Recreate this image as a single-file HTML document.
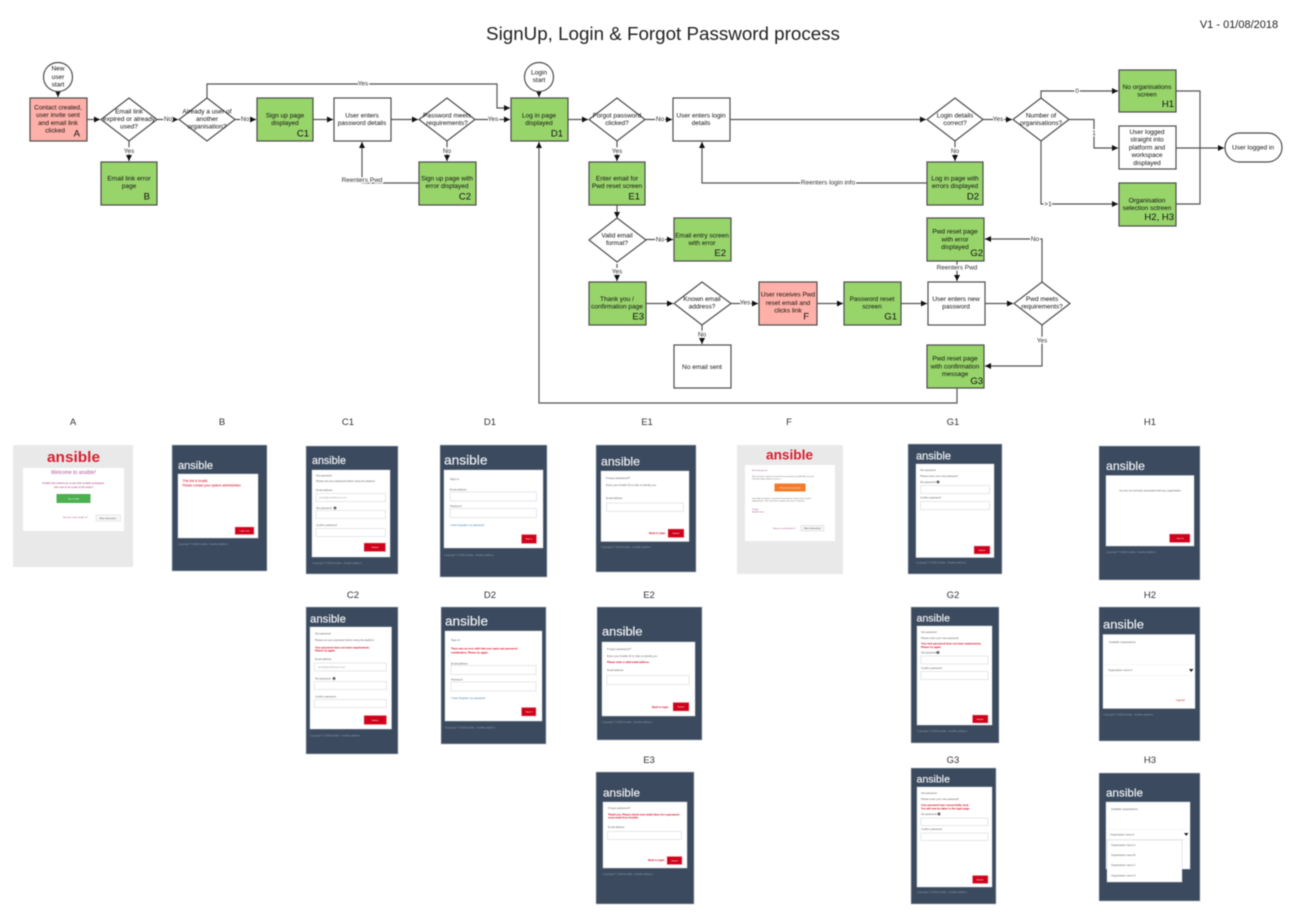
<!DOCTYPE html>
<html><head><meta charset="utf-8"><title>SignUp, Login &amp; Forgot Password process</title>
<style>
html,body{margin:0;padding:0;background:#fff;width:1310px;height:918px;overflow:hidden}
svg{display:block;filter:blur(.4px);font-family:"Liberation Sans",Arial,sans-serif}
.b{stroke:#4d4d4d;stroke-width:1.2}
.g{fill:#97d46a}.p{fill:#ffb0a8}.w{fill:#fff}
.ln{fill:none;stroke:#555;stroke-width:1.2}
.a{marker-end:url(#ah)}
.t{font-size:6.5px;text-anchor:middle;fill:#111}
.m{font-size:6.5px;text-anchor:middle;fill:#333;paint-order:stroke;stroke:#fff;stroke-width:2.5px}
.L{font-size:9.5px;text-anchor:end;fill:#111}
.H{font-size:9.5px;text-anchor:middle;fill:#333}
.s{fill:#3b4a5e;stroke:#b8c0cb;stroke-width:.6}
.e{fill:#e9e9e9}
.c{fill:#fff;stroke:#d4d8de;stroke-width:.5}
.i{fill:#fff;stroke:#d5d8dc;stroke-width:.6}
.B{fill:#d0021b;stroke:#f0a0a8;stroke-width:.4}
.lg{fill:#eef0f3;stroke:#eef0f3;stroke-width:.2}
.lr{font-weight:bold;fill:#dc1c2e}
.x{font-size:2.6px;fill:#666}
.r{font-size:2.6px;fill:#d0021b;font-weight:bold}
.f{font-size:2.6px;fill:#8c98a8}
.bt{font-size:2.2px;fill:#fff;text-anchor:middle}
.pu{font-size:2.6px;fill:#a0377f}
.u{font-size:2.6px;fill:#3a7fb5}
</style></head><body>
<svg width="1310" height="918" viewBox="0 0 1310 918" xmlns="http://www.w3.org/2000/svg">
<defs><marker id="ah" markerUnits="userSpaceOnUse" markerWidth="6" markerHeight="6" refX="6" refY="3" orient="auto"><path d="M0 0L6 3L0 6z" fill="#111"/></marker></defs>
<rect width="1310" height="918" fill="#fff"/>
<text x="663" y="40" font-size="18.8" text-anchor="middle" fill="#222">SignUp, Login &amp; Forgot Password process</text>
<text x="1239" y="28" font-size="11" text-anchor="middle" fill="#222">V1 - 01/08/2018</text>

<!-- connectors -->
<g class="ln">
<path class="a" d="M58 92V97"/>
<path class="a" d="M87 119.5H100"/>
<path class="a" d="M157 119.5H178"/>
<path class="a" d="M235 119.5H256"/>
<path class="a" d="M313 119.5H333"/>
<path class="a" d="M391 119.5H418"/>
<path class="a" d="M475 119.5H510"/>
<path class="a" d="M207 98V84H497V108H510"/>
<path class="a" d="M129 141V161"/>
<path class="a" d="M447 141V161"/>
<path class="a" d="M419 183H362V142"/>
<path class="a" d="M539 92V97"/>
<path class="a" d="M568 119.5H588"/>
<path class="a" d="M645 119.5H672"/>
<path class="a" d="M730 119.5H926"/>
<path class="a" d="M983 119.5H1012"/>
<path class="a" d="M617 141V161"/>
<path class="a" d="M955 141V161"/>
<path class="a" d="M927 183H702V142"/>
<path class="a" d="M1041 98V91H1118"/>
<path class="a" d="M1069 119.5H1094V148H1118"/>
<path class="a" d="M1041 141V204H1118"/>
<path d="M1176 91H1200V204H1176"/>
<path class="a" d="M1176 148H1224"/>
<path class="a" d="M617 205V218"/>
<path class="a" d="M646 239.5H673"/>
<path class="a" d="M617 264V281"/>
<path class="a" d="M646 303.5H673"/>
<path class="a" d="M731 303.5H758"/>
<path class="a" d="M817 303.5H843"/>
<path class="a" d="M901 303.5H927"/>
<path class="a" d="M985 303.5H1013"/>
<path class="a" d="M702 325V344"/>
<path class="a" d="M957 261V281"/>
<path class="a" d="M1042 282V239H985"/>
<path class="a" d="M1042 325V366H985"/>
<path class="a" d="M957 388V403H539V142"/>
</g>
<!-- connector labels -->
<text class="m" x="363" y="85.5">Yes</text>
<text class="m" x="168" y="121">No</text>
<text class="m" x="245" y="121">No</text>
<text class="m" x="493" y="121">Yes</text>
<text class="m" x="129" y="153">Yes</text>
<text class="m" x="447" y="153">No</text>
<text class="m" x="362" y="182">Reenters Pwd</text>
<text class="m" x="660" y="121">No</text>
<text class="m" x="617" y="153">Yes</text>
<text class="m" x="955" y="153">No</text>
<text class="m" x="828" y="184.5">Reenters login info</text>
<text class="m" x="998" y="121">Yes</text>
<text class="m" x="1077" y="93">0</text>
<text class="m" x="1094" y="135">1</text>
<text class="m" x="1048" y="206">&gt;1</text>
<text class="m" x="660" y="241.5">No</text>
<text class="m" x="617" y="273.5">Yes</text>
<text class="m" x="745" y="304.5">Yes</text>
<text class="m" x="702" y="336.5">No</text>
<text class="m" x="957" y="269.5">Reenters Pwd</text>
<text class="m" x="1035" y="241">No</text>
<text class="m" x="1042" y="342.5">Yes</text>

<!-- shapes -->
<g class="b">
<circle class="w" cx="58" cy="77" r="14.5"/>
<circle class="w" cx="539" cy="77" r="14.5"/>
<rect class="p" x="30" y="98" width="57" height="43"/>
<rect class="g" x="257" y="98" width="56" height="43"/>
<rect class="w" x="334" y="98" width="57" height="43"/>
<rect class="g" x="511" y="98" width="57" height="43"/>
<rect class="w" x="673" y="98" width="57" height="43"/>
<rect class="g" x="101" y="162" width="56" height="43"/>
<rect class="g" x="419" y="162" width="57" height="43"/>
<rect class="g" x="589" y="162" width="56" height="43"/>
<rect class="g" x="927" y="162" width="56" height="43"/>
<rect class="g" x="1119" y="70" width="57" height="42"/>
<rect class="w" x="1119" y="126" width="57" height="43"/>
<rect class="g" x="1119" y="183" width="57" height="43"/>
<rect class="w" x="1225" y="133" width="57" height="29" rx="14.5"/>
<rect class="g" x="674" y="218" width="57" height="43"/>
<rect class="g" x="927" y="218" width="57" height="43"/>
<rect class="g" x="589" y="282" width="57" height="43"/>
<rect class="p" x="759" y="282" width="58" height="43"/>
<rect class="g" x="844" y="282" width="57" height="43"/>
<rect class="w" x="928" y="282" width="57" height="43"/>
<rect class="w" x="674" y="345" width="57" height="43"/>
<rect class="g" x="927" y="345" width="57" height="43"/>
<path class="w" d="M129 98L157 119.5L129 141L101 119.5z"/>
<path class="w" d="M207 98L235 119.5L207 141L179 119.5z"/>
<path class="w" d="M447 98L475 119.5L447 141L419 119.5z"/>
<path class="w" d="M617 98L645 119.5L617 141L589 119.5z"/>
<path class="w" d="M955 98L983 119.5L955 141L927 119.5z"/>
<path class="w" d="M1041 98L1069 119.5L1041 141L1013 119.5z"/>
<path class="w" d="M617 218L646 240L617 262L589 240z"/>
<path class="w" d="M702 282L731 303.5L702 325L674 303.5z"/>
<path class="w" d="M1042 282L1070 303.5L1042 325L1014 303.5z"/>
</g>

<!-- node text -->
<text class="t"><tspan x="58" y="70.3">New</tspan><tspan x="58" y="79">user</tspan><tspan x="58" y="86.3">start</tspan></text>
<text class="t"><tspan x="539" y="74.5">Login</tspan><tspan x="539" y="82">start</tspan></text>
<text class="t"><tspan x="58" y="109.5">Contact created,</tspan><tspan x="58" y="117">user invite sent</tspan><tspan x="58" y="125">and email link</tspan><tspan x="55" y="132.5">clicked</tspan></text>
<text class="L" x="80" y="136.5">A</text>
<text class="t"><tspan x="129" y="113.5">Email link</tspan><tspan x="129" y="121">expired or already</tspan><tspan x="129" y="128.5">used?</tspan></text>
<text class="t"><tspan x="207" y="113.5">Already a user of</tspan><tspan x="207" y="121">another</tspan><tspan x="207" y="128.5">organisation?</tspan></text>
<text class="t"><tspan x="285" y="117.5">Sign up page</tspan><tspan x="285" y="125">displayed</tspan></text>
<text class="L" x="309" y="136.5">C1</text>
<text class="t"><tspan x="362" y="117.5">User enters</tspan><tspan x="362" y="125">password details</tspan></text>
<text class="t"><tspan x="447" y="117.5">Password meets</tspan><tspan x="447" y="125">requirements?</tspan></text>
<text class="t"><tspan x="129" y="180.5">Email link error</tspan><tspan x="129" y="188">page</tspan></text>
<text class="L" x="150" y="199.5">B</text>
<text class="t"><tspan x="447" y="180.5">Sign up page with</tspan><tspan x="447" y="188">error displayed</tspan></text>
<text class="L" x="471" y="199.5">C2</text>
<text class="t"><tspan x="539" y="117.5">Log in page</tspan><tspan x="539" y="125">displayed</tspan></text>
<text class="L" x="563" y="136.5">D1</text>
<text class="t"><tspan x="617" y="117.5">Forgot password</tspan><tspan x="617" y="125">clicked?</tspan></text>
<text class="t"><tspan x="701" y="117.5">User enters login</tspan><tspan x="701" y="125">details</tspan></text>
<text class="t"><tspan x="955" y="117.5">Login details</tspan><tspan x="955" y="125">correct?</tspan></text>
<text class="t"><tspan x="1041" y="117.5">Number of</tspan><tspan x="1041" y="125">organisations?</tspan></text>
<text class="t"><tspan x="617" y="180.5">Enter email for</tspan><tspan x="617" y="188">Pwd reset screen</tspan></text>
<text class="L" x="640" y="199.5">E1</text>
<text class="t"><tspan x="955" y="180.5">Log in page with</tspan><tspan x="955" y="188">errors displayed</tspan></text>
<text class="L" x="979" y="199.5">D2</text>
<text class="t"><tspan x="1147" y="89">No organisations</tspan><tspan x="1147" y="96.5">screen</tspan></text>
<text class="L" x="1174" y="107">H1</text>
<text class="t"><tspan x="1147" y="134">User logged</tspan><tspan x="1147" y="141.5">straight into</tspan><tspan x="1147" y="149.5">platform and</tspan><tspan x="1147" y="157">workspace</tspan><tspan x="1147" y="165">displayed</tspan></text>
<text class="t"><tspan x="1147" y="202.5">Organisation</tspan><tspan x="1147" y="210">selection sctreen</tspan></text>
<text class="L" x="1174" y="220">H2, H3</text>
<text class="t" x="1253" y="149.5">User logged in</text>
<text class="t"><tspan x="617" y="237.5">Valid email</tspan><tspan x="617" y="245">format?</tspan></text>
<text class="t"><tspan x="702" y="237.5">Email entry screen</tspan><tspan x="702" y="245">with error</tspan></text>
<text class="L" x="726" y="256">E2</text>
<text class="t"><tspan x="955" y="233.5">Pwd reset page</tspan><tspan x="955" y="241.5">with error</tspan><tspan x="955" y="249">displayed</tspan></text>
<text class="L" x="983" y="256">G2</text>
<text class="t"><tspan x="617" y="301">Thank you /</tspan><tspan x="617" y="308.5">confirmation page</tspan></text>
<text class="L" x="644" y="319.5">E3</text>
<text class="t"><tspan x="702" y="301">Known email</tspan><tspan x="702" y="308.5">address?</tspan></text>
<text class="t"><tspan x="788" y="296.5">User receives Pwd</tspan><tspan x="788" y="305">reset email and</tspan><tspan x="788" y="312.5">clicks link</tspan></text>
<text class="L" x="809" y="319.5">F</text>
<text class="t"><tspan x="872" y="301">Password reset</tspan><tspan x="872" y="308.5">screen</tspan></text>
<text class="L" x="897" y="319.5">G1</text>
<text class="t"><tspan x="956" y="301">User enters new</tspan><tspan x="956" y="308.5">password</tspan></text>
<text class="t"><tspan x="1042" y="301">Pwd meets</tspan><tspan x="1042" y="308.5">requirements?</tspan></text>
<text class="t" x="702" y="369">No email sent</text>
<text class="t"><tspan x="955" y="360.5">Pwd reset page</tspan><tspan x="955" y="368.5">with confirmation</tspan><tspan x="955" y="376">message</tspan></text>
<text class="L" x="983" y="384">G3</text>

<!-- screen headings -->
<g>
<text class="H" x="73" y="425">A</text><text class="H" x="222" y="425">B</text><text class="H" x="348" y="425">C1</text><text class="H" x="490" y="425">D1</text><text class="H" x="647" y="425">E1</text><text class="H" x="789" y="425">F</text><text class="H" x="953" y="425">G1</text><text class="H" x="1150" y="425">H1</text>
<text class="H" x="353" y="598">C2</text><text class="H" x="490" y="598">D2</text><text class="H" x="649" y="598">E2</text><text class="H" x="953" y="598">G2</text><text class="H" x="1150" y="598">H2</text>
<text class="H" x="649" y="763">E3</text><text class="H" x="953" y="763">G3</text><text class="H" x="1150" y="763">H3</text>
</g>

<!-- A -->
<rect class="e" x="13" y="445" width="120" height="122"/>
<text class="lr" x="47" y="462" font-size="15" textLength="53" lengthAdjust="spacingAndGlyphs">ansible</text>
<rect x="23" y="468" width="101" height="63" fill="#fff"/>
<text x="73.5" y="474" font-size="5" text-anchor="middle" fill="#b0569a">Welcome to ansible!</text>
<text class="pu" x="73.5" y="484" text-anchor="middle">Ansible has invited you to join their ansible workspace.</text>
<text class="pu" x="73.5" y="488" text-anchor="middle">Join now to be a part of the action!</text>
<rect x="56.5" y="494" width="34" height="9" fill="#4cb050"/><text class="bt" x="73.5" y="499.5">Join ansible</text>
<text class="pu" x="63" y="518" style="font-size:2.2px">Not your email enable in?</text>
<rect x="96" y="515" width="24.5" height="6" fill="#f6f6f6" stroke="#ccc" stroke-width=".4"/><text x="108" y="519" font-size="2.2" text-anchor="middle" fill="#333">More information</text>

<!-- B -->
<rect class="s" x="172" y="445" width="95" height="126"/>
<text class="lg" x="178" y="469" font-size="11" textLength="35" lengthAdjust="spacingAndGlyphs">ansible</text>
<rect class="c" x="178" y="474" width="80" height="64"/>
<text class="r" style="font-weight:normal;font-size:3.2px" x="182.5" y="482">This link is invalid.</text>
<text class="r" style="font-weight:normal;font-size:3.2px" x="182.5" y="486.5">Please contact your system administrator.</text>
<rect class="B" x="235" y="527" width="19" height="7.5"/><text class="bt" x="244.5" y="531.5">Login now</text>
<text class="f" x="178" y="545">Copyright &#169; 2018 Ansible - Ansible platform</text>

<!-- C1 -->
<rect class="s" x="306" y="446" width="92" height="128"/>
<text class="lg" x="312" y="464" font-size="10.8" textLength="34" lengthAdjust="spacingAndGlyphs">ansible</text>
<rect class="c" x="312" y="470" width="78" height="87"/>
<text class="x" x="316" y="476.5">Set password</text>
<text class="x" x="316" y="482">Please set your password before using the platform</text>
<text class="x" x="316" y="491">Email address</text><rect class="i" x="316" y="493.5" width="69.5" height="8"/><text class="x" x="319" y="498.5" style="fill:#aaa">jsmith@ansibleone.com</text>
<text class="x" x="316" y="509">Set password</text><circle cx="335" cy="508" r="1.5" fill="#666"/><rect class="i" x="316" y="510.5" width="69.5" height="8"/>
<text class="x" x="316" y="526">Confirm password</text><rect class="i" x="316" y="528.5" width="69.5" height="8"/>
<rect class="B" x="364" y="543" width="21.5" height="8.5"/><text class="bt" x="375" y="548">Submit</text>
<text class="f" x="312" y="564">Copyright &#169; 2018 Ansible - Ansible platform</text>

<!-- D1 -->
<rect class="s" x="440" y="445" width="107" height="132"/>
<text class="lg" x="444" y="464.500" font-size="13" textLength="43.5" lengthAdjust="spacingAndGlyphs">ansible</text>
<rect class="c" x="444" y="470" width="99" height="78"/>
<text class="x" style="font-size:3px" x="450" y="480">Sign in</text>
<text class="x" x="450" y="490.5">Email address</text><rect class="i" x="450" y="492" width="86.5" height="9"/>
<text class="x" x="450" y="507">Password</text><rect class="i" x="450" y="508.5" width="86.5" height="9"/>
<text class="u" x="450" y="526">I have forgotten my password</text>
<rect class="B" x="521.5" y="534.5" width="15" height="9"/><text class="bt" x="529" y="539.5">Sign in</text>
<text class="f" x="444" y="556">Copyright &#169; 2018 Ansible - Ansible platform</text>

<!-- E1 -->
<rect class="s" x="596" y="445" width="100" height="127"/>
<text class="lg" x="601" y="465.5" font-size="11.8" textLength="39" lengthAdjust="spacingAndGlyphs">ansible</text>
<rect class="c" x="601" y="471" width="88" height="70.5"/>
<text class="x" style="font-size:3px" x="606" y="479">Forgot password?</text>
<text class="x" x="606" y="486">Enter your Ansible ID to help us identify you</text>
<text class="x" x="606" y="499">Email address</text><rect class="i" x="606.5" y="503" width="77" height="8.5"/>
<text class="r" x="649" y="534">Back to login</text>
<rect class="B" x="668" y="529" width="16" height="8.5"/><text class="bt" x="676" y="534">Submit</text>
<text class="f" x="601" y="548">Copyright &#169; 2018 Ansible - Ansible platform</text>

<!-- F -->
<rect class="e" x="737" y="445" width="106" height="129"/>
<text class="lr" x="766" y="459.5" font-size="13.5" textLength="47" lengthAdjust="spacingAndGlyphs">ansible</text>
<rect x="745" y="465" width="90" height="76" fill="#fff"/>
<text class="pu" x="752" y="471" style="font-size:2.2px">Hi Great person</text>
<text class="x" x="752" y="477" style="font-size:2px">We received a request to reset the password for your Ansible account.</text>
<text class="x" x="752" y="479.5" style="font-size:2px">Click the button below to reset it.</text>
<rect x="774.5" y="483.5" width="31" height="8" fill="#f47b2a"/><text class="bt" x="790" y="488.5">Reset your password</text>
<text class="x" x="752" y="499" style="font-size:2px">If you did not request a password reset please contact your system</text>
<text class="x" x="752" y="501.5" style="font-size:2px">administrator. This reset link is valid for the next 15 minutes.</text>
<text class="pu" x="752" y="510" style="font-size:2px">Thanks,</text><text class="pu" x="752" y="512.5" style="font-size:2px">Ansible Team</text>
<text class="pu" x="773" y="529" style="font-size:2px">Not your email enable in?</text>
<rect x="801" y="525.5" width="23" height="5.5" fill="#f4f4f4" stroke="#ccc" stroke-width=".4"/><text x="812.5" y="529" font-size="2.2" text-anchor="middle" fill="#333">More information</text>

<!-- G1 -->
<rect class="s" x="908" y="444" width="94" height="130"/>
<text class="lg" x="916" y="459.5" font-size="10.8" textLength="35" lengthAdjust="spacingAndGlyphs">ansible</text>
<rect class="c" x="916" y="464" width="78" height="93.5"/>
<text class="x" x="920" y="471">Set password</text>
<text class="x" x="920" y="477">Please enter your new password</text>
<text class="x" x="920" y="483">Set password</text><circle cx="938" cy="482" r="1.5" fill="#666"/><rect class="i" x="920.5" y="485.5" width="69" height="8"/>
<text class="x" x="920" y="498.5">Confirm password</text><rect class="i" x="920.5" y="501.5" width="69" height="8"/>
<rect class="B" x="974" y="546" width="16" height="8"/><text class="bt" x="982" y="551">Submit</text>
<text class="f" x="916" y="563.5">Copyright &#169; 2018 Ansible - Ansible platform</text>

<!-- H1 -->
<rect class="s" x="1099" y="446" width="101" height="134"/>
<text class="lg" x="1106" y="470" font-size="11.8" textLength="39" lengthAdjust="spacingAndGlyphs">ansible</text>
<rect class="c" x="1106" y="475.5" width="88" height="70.5"/>
<text class="x" x="1150" y="491.5" text-anchor="middle">You are not currently associated with any organisation</text>
<rect class="B" x="1169.5" y="534" width="20.5" height="8.5"/><text class="bt" x="1180" y="539">Log out</text>
<text class="f" x="1106" y="553">Copyright &#169; 2018 Ansible - Ansible platform</text>

<!-- C2 -->
<rect class="s" x="306" y="607" width="92" height="147"/>
<text class="lg" x="310" y="622.5" font-size="10.8" textLength="36" lengthAdjust="spacingAndGlyphs">ansible</text>
<rect class="c" x="310" y="627" width="81.5" height="102"/>
<text class="x" x="315" y="634.5">Set password</text>
<text class="x" x="315" y="641">Please set your password before using the platform</text>
<text class="r" x="315" y="648.5">Your password does not meet requirements.</text>
<text class="r" x="315" y="651.5">Please try again.</text>
<text class="x" x="315" y="660">Email address</text><rect class="i" x="314.5" y="663" width="72" height="8"/><text class="x" x="318" y="668" style="fill:#aaa">jsmith@ansibleone.com</text>
<text class="x" x="315" y="679.5">Set password</text><circle cx="334" cy="678.5" r="1.5" fill="#666"/><rect class="i" x="314.5" y="681.5" width="72" height="8"/>
<text class="x" x="315" y="697.5">Confirm password</text><rect class="i" x="314.5" y="699.5" width="72" height="8"/>
<rect class="B" x="364" y="715.5" width="22.5" height="9"/><text class="bt" x="375" y="721">Submit</text>
<text class="f" x="310" y="736.5">Copyright &#169; 2018 Ansible - Ansible platform</text>

<!-- D2 -->
<rect class="s" x="441" y="607" width="105" height="137"/>
<text class="lg" x="445" y="625.5" font-size="13" textLength="43" lengthAdjust="spacingAndGlyphs">ansible</text>
<rect class="c" x="445" y="631" width="97" height="90"/>
<text class="x" style="font-size:3px" x="451" y="641">Sign in</text>
<text class="r" x="451" y="649.5">There was an error with that user name and password</text>
<text class="r" x="451" y="653.5">combination. Please try again.</text>
<text class="x" x="451" y="664.5">Email address</text><rect class="i" x="451" y="665.5" width="85" height="9"/>
<text class="x" x="451" y="680.5">Password</text><rect class="i" x="451" y="682" width="85" height="9"/>
<text class="u" x="451" y="699">I have forgotten my password</text>
<rect class="B" x="521.5" y="707.5" width="14.5" height="8.5"/><text class="bt" x="529" y="712.5">Sign in</text>
<text class="f" x="445" y="728.5">Copyright &#169; 2018 Ansible - Ansible platform</text>

<!-- E2 -->
<rect class="s" x="597" y="607" width="105" height="133"/>
<text class="lg" x="602" y="635.5" font-size="12.2" textLength="40.5" lengthAdjust="spacingAndGlyphs">ansible</text>
<rect class="c" x="602" y="642" width="93" height="74"/>
<text class="x" style="font-size:3px" x="607" y="650">Forgot password?</text>
<text class="x" x="607" y="657">Enter your Ansible ID to help us identify you</text>
<text class="r" x="607" y="663">Please enter a valid email address</text>
<text class="x" x="607" y="671">Email address</text><rect class="i" x="607" y="675.5" width="82" height="9"/>
<text class="r" x="652" y="708">Back to login</text>
<rect class="B" x="673" y="702.5" width="16" height="8.5"/><text class="bt" x="681" y="707.5">Submit</text>
<text class="f" x="602" y="723">Copyright &#169; 2018 Ansible - Ansible platform</text>

<!-- E3 -->
<rect class="s" x="596" y="772" width="98" height="132"/>
<text class="lg" x="603" y="796.5" font-size="11.3" textLength="37" lengthAdjust="spacingAndGlyphs">ansible</text>
<rect class="c" x="603" y="802" width="84" height="66"/>
<text class="x" style="font-size:2.8px" x="608" y="809">Forgot password?</text>
<text class="r" x="608" y="815.5">Thank you. Please check your email inbox for a password</text>
<text class="r" x="608" y="818.5">reset email from Ansible</text>
<text class="x" x="608" y="828">Email address</text><rect class="i" x="607.5" y="831.5" width="74" height="8"/>
<text class="r" x="648" y="861">Back to login</text>
<rect class="B" x="667" y="856.5" width="15" height="8"/><text class="bt" x="674.5" y="861.5">Submit</text>
<text class="f" x="603" y="875">Copyright &#169; 2018 Ansible - Ansible platform</text>

<!-- G2 -->
<rect class="s" x="911" y="607" width="88" height="136"/>
<text class="lg" x="916.5" y="621.5" font-size="10.4" textLength="33.5" lengthAdjust="spacingAndGlyphs">ansible</text>
<rect class="c" x="917" y="626" width="75" height="99"/>
<text class="x" x="921" y="633">Set password</text>
<text class="x" x="921" y="639">Please enter your new password</text>
<text class="r" x="921" y="644.5">Your new password does not meet requirements.</text>
<text class="r" x="921" y="648">Please try again.</text>
<text class="x" x="921" y="653.5">Set password</text><circle cx="938" cy="652.5" r="1.5" fill="#666"/><rect class="i" x="921" y="656" width="67" height="8"/>
<text class="x" x="921" y="669">Confirm password</text><rect class="i" x="921" y="671.5" width="67" height="8"/>
<rect class="B" x="972.5" y="715" width="15.5" height="8"/><text class="bt" x="980" y="720">Submit</text>
<text class="f" x="917" y="732">Copyright &#169; 2018 Ansible - Ansible platform</text>

<!-- G3 -->
<rect class="s" x="911" y="768" width="85" height="136"/>
<text class="lg" x="916.5" y="782.5" font-size="10.4" textLength="33.5" lengthAdjust="spacingAndGlyphs">ansible</text>
<rect class="c" x="917" y="787" width="75" height="100"/>
<text class="x" x="921" y="794">Set password</text>
<text class="x" x="921" y="800">Please enter your new password</text>
<text class="r" x="921" y="806">Your password was successfully reset.</text>
<text class="r" x="921" y="809.5">You will now be taken to the login page.</text>
<text class="x" x="921" y="815">Set password</text><circle cx="939" cy="814" r="1.5" fill="#666"/><rect class="i" x="921" y="818" width="67" height="7.5"/>
<text class="x" x="921" y="830">Confirm password</text><rect class="i" x="921" y="833" width="67" height="7.5"/>
<rect class="B" x="972.5" y="875.5" width="15.5" height="8"/><text class="bt" x="980" y="880.5">Submit</text>
<text class="f" x="917" y="893">Copyright &#169; 2018 Ansible - Ansible platform</text>

<!-- H2 -->
<rect class="s" x="1099" y="607" width="101" height="134"/>
<text class="lg" x="1103" y="628.5" font-size="12.2" textLength="41" lengthAdjust="spacingAndGlyphs">ansible</text>
<rect class="c" x="1103" y="634.5" width="92" height="74"/>
<text class="x" x="1109" y="643">Available organisations</text>
<path d="M1103 664.5H1195M1103 675.5H1195" stroke="#eee" stroke-width=".6"/>
<text class="x" x="1108" y="671">Organisation name A</text>
<path d="M1189 669H1193.5L1191.2 672z" fill="#222"/>
<text class="r" x="1176" y="701" style="font-weight:normal">Log out</text>
<text class="f" x="1103" y="715.5">Copyright &#169; 2018 Ansible - Ansible platform</text>

<!-- H3 -->
<rect class="s" x="1099" y="773" width="101" height="128"/>
<text class="lg" x="1106" y="796.5" font-size="11.3" textLength="37" lengthAdjust="spacingAndGlyphs">ansible</text>
<rect class="c" x="1106" y="802" width="84" height="67"/>
<text class="x" x="1111" y="810">Available organisations</text>
<path d="M1106 829.5H1190M1106 839.5H1190" stroke="#eee" stroke-width=".6"/>
<text class="x" x="1110" y="835.5">Organisation name A</text>
<path d="M1184 833H1188.5L1186.2 836z" fill="#222"/>
<rect x="1107" y="840" width="75" height="42" fill="#fff" stroke="#c8ccd2" stroke-width=".5"/>
<text class="x" x="1111" y="846">Organisation name A</text>
<text class="x" x="1111" y="856">Organisation name B</text>
<text class="x" x="1111" y="866">Organisation name C</text>
<text class="x" x="1111" y="876.5">Organisation name D</text>
</svg>
</body></html>
